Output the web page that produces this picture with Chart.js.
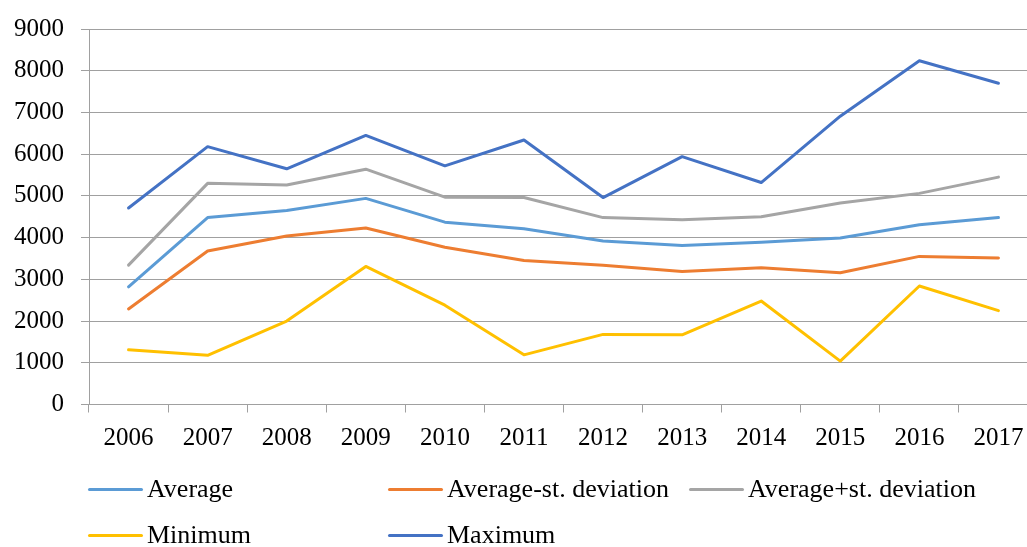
<!DOCTYPE html>
<html>
<head>
<meta charset="utf-8">
<script src="https://cdn.jsdelivr.net/npm/chart.js"></script>
<style>
  html, body { margin: 0; padding: 0; background: #fff; overflow: hidden; width: 1027px; height: 547px; }
  #wrap { position: relative; width: 1040px; height: 547px; }
  #legend { position: absolute; left: 0; top: 0; width: 1027px; height: 547px; pointer-events: none; }
  .item { position: absolute; display: flex; align-items: center; font-family: 'Liberation Serif', serif; font-size: 26px; color: #000; white-space: nowrap; }
  .item span.swatch { display: inline-block; width: 55px; height: 3px; border-radius: 2px; margin-right: 4px; }
</style>
</head>
<body>
<div id="wrap">
  <canvas id="chart" width="1040" height="547"></canvas>
  <div id="legend"></div>
</div>
<script>
// years on the x axis
const years = ['2006', '2007', '2008', '2009', '2010', '2011', '2012', '2013', '2014', '2015', '2016', '2017'];

// series
const average      = [2820, 4480, 4650, 4940, 4370, 4210, 3920, 3810, 3890, 3990, 4310, 4480];
const averageMinus = [2290, 3680, 4040, 4230, 3770, 3450, 3340, 3190, 3280, 3160, 3550, 3510];
const averagePlus  = [3340, 5300, 5260, 5640, 4970, 4960, 4480, 4430, 4500, 4830, 5060, 5450];
const minimum      = [1310, 1180, 2000, 3310, 2380, 1190, 1680, 1670, 2480, 1040, 2840, 2250];
const maximum      = [4710, 6180, 5650, 6450, 5720, 6340, 4960, 5940, 5320, 6910, 8240, 7700];

// y axis ticks
const yTicks = [0, 1000, 2000, 3000, 4000, 5000, 6000, 7000, 8000, 9000];

const font = { family: "'Liberation Serif', serif", size: 25 };
const gridColor = '#a0a0a0';

function series(label, data, color) {
    return {
        label: label,
        data: data,
        borderColor: color,
        backgroundColor: color,
        borderWidth: 3,
        pointRadius: 0,
        tension: 0,
        fill: false,
        borderCapStyle: 'round',
        borderJoinStyle: 'round'
    };
}

const datasets = [
    series('Average', average, '#5b9bd5'),
    series('Average-st. deviation', averageMinus, '#ed7d31'),
    series('Average+st. deviation', averagePlus, '#a5a5a5'),
    series('Minimum', minimum, '#ffc000'),
    series('Maximum', maximum, '#4472c4')
];

const chart = new Chart(document.getElementById('chart').getContext('2d'), {
    type: 'line',
    data: { labels: years, datasets: datasets.slice().reverse() },
    options: {
        responsive: false,
        animation: false,
        layout: { padding: { left: 14, right: 2, top: 29, bottom: 82.5 } },
        plugins: { legend: { display: false }, tooltip: { enabled: false } },
        scales: {
            x: {
                offset: true,
                grid: { offset: true, drawOnChartArea: false, drawTicks: true, tickLength: 8, color: gridColor },
                border: { display: true, color: gridColor, width: 1 },
                ticks: { color: '#000', font: font, padding: 11, maxRotation: 0, autoSkip: false }
            },
            y: {
                min: 0,
                max: 9000,
                afterBuildTicks: axis => { axis.ticks = yTicks.map(v => ({ value: v })); },
                afterFit: axis => { axis.width = 75; axis.paddingTop = 0; axis.paddingBottom = 0; },
                grid: { color: gridColor, drawTicks: true, tickLength: 8 },
                border: { display: true, color: gridColor, width: 1 },
                ticks: { color: '#000', font: font, padding: 17, callback: v => String(v) }
            }
        }
    }
});

// legend laid out like the original (two rows, fixed slots)
const slots = [
    { left: 88, top: 489 }, { left: 388, top: 489 }, { left: 689, top: 489 },
    { left: 88, top: 535 }, { left: 388, top: 535 }
];
const legend = document.getElementById('legend');
datasets.forEach((ds, i) => {
    const el = document.createElement('div');
    el.className = 'item';
    el.style.left = slots[i].left + 'px';
    el.style.top = (slots[i].top - 16) + 'px';
    el.style.height = '32px';
    el.innerHTML = '<span class="swatch" style="background:' + ds.borderColor + '"></span>' + ds.label;
    legend.appendChild(el);
});
</script>
</body>
</html>
